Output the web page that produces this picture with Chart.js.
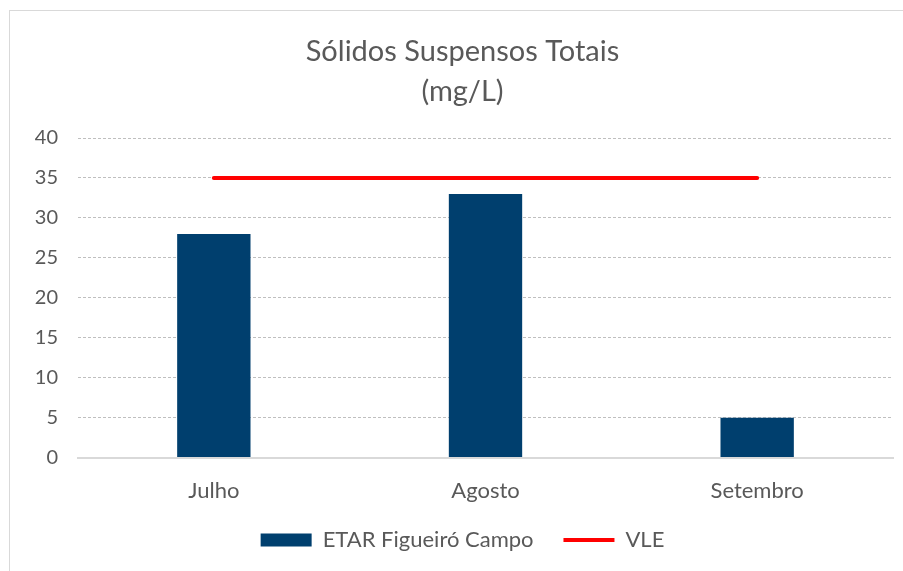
<!DOCTYPE html>
<html>
<head>
<meta charset="utf-8">
<script src="https://cdn.jsdelivr.net/npm/chart.js@4.4.1/dist/chart.umd.min.js"></script>
<style>
  html, body { margin: 0; padding: 0; background: #fff; overflow: hidden; }
  #frame {
    position: absolute; left: 9px; top: 10px;
    width: 920px; height: 570px;
    border: 1px solid #d9d9d9; background: #fff;
  }
  #chart { display: block; }
</style>
</head>
<body>
<div id="frame"><canvas id="chart" width="920" height="570"></canvas></div>
<script>
// chart data
const months = ['Julho', 'Agosto', 'Setembro'];
const etarValues = [28, 33, 5];
const vleValues = [35, 35, 35];
const yTicks = [0, 5, 10, 15, 20, 25, 30, 35, 40];

const textColor = '#595959';
const fontFamily = 'Lato, "Open Sans", sans-serif';

const ctx = document.getElementById('chart');
new Chart(ctx, {
    type: 'bar',
    data: {
        labels: months,
        datasets: [
            {
                type: 'bar',
                label: 'ETAR Figueiró Campo',
                data: etarValues,
                backgroundColor: '#003f6e',
                borderWidth: 0,
                barPercentage: 0.27,
                categoryPercentage: 1,
                pointStyle: 'rect',
                order: 2
            },
            {
                type: 'line',
                label: 'VLE',
                data: vleValues,
                borderColor: '#ff0000',
                backgroundColor: '#ff0000',
                borderWidth: 4,
                borderCapStyle: 'round',
                pointRadius: 0,
                pointStyle: 'line',
                order: 1
            }
        ]
    },
    options: {
        responsive: false,
        animation: false,
        layout: { padding: { top: 10, left: 22, right: 37, bottom: 20 } },
        plugins: {
            title: {
                display: true,
                text: ['Sólidos Suspensos Totais', '(mg/L)'],
                color: textColor,
                font: { family: fontFamily, size: 29, weight: 'normal', lineHeight: 1.38 },
                padding: { top: 11, bottom: 26 }
            },
            legend: {
                position: 'bottom',
                labels: {
                    color: textColor,
                    font: { family: fontFamily, size: 22 },
                    usePointStyle: true,
                    pointStyleWidth: 51,
                    boxHeight: 13,
                    padding: 13,
                    // keep dataset order (bars first), widen gap after first item
                    sort: (a, b) => a.datasetIndex - b.datasetIndex,
                    generateLabels: (chart) => {
                        const items = Chart.defaults.plugins.legend.labels.generateLabels(chart);
                        items.forEach(it => { if (it.datasetIndex === 0) it.text += '   '; });
                        return items;
                    }
                }
            },
            tooltip: { enabled: false }
        },
        scales: {
            x: {
                grid: { display: false },
                border: { color: '#d9d9d9', width: 2 },
                ticks: {
                    color: textColor,
                    font: { family: fontFamily, size: 22 },
                    padding: 12
                }
            },
            y: {
                min: 0,
                max: 40,
                afterFit: (scale) => { scale.width = 46; },
                afterBuildTicks: (scale) => { scale.ticks = yTicks.map(v => ({ value: v })); },
                grid: { color: '#bfbfbf', lineWidth: 1, drawTicks: false },
                border: { display: false, dash: [3, 2] },
                ticks: {
                    color: textColor,
                    font: { family: fontFamily, size: 20 },
                    padding: 20
                }
            }
        }
    }
});
</script>
</body>
</html>
